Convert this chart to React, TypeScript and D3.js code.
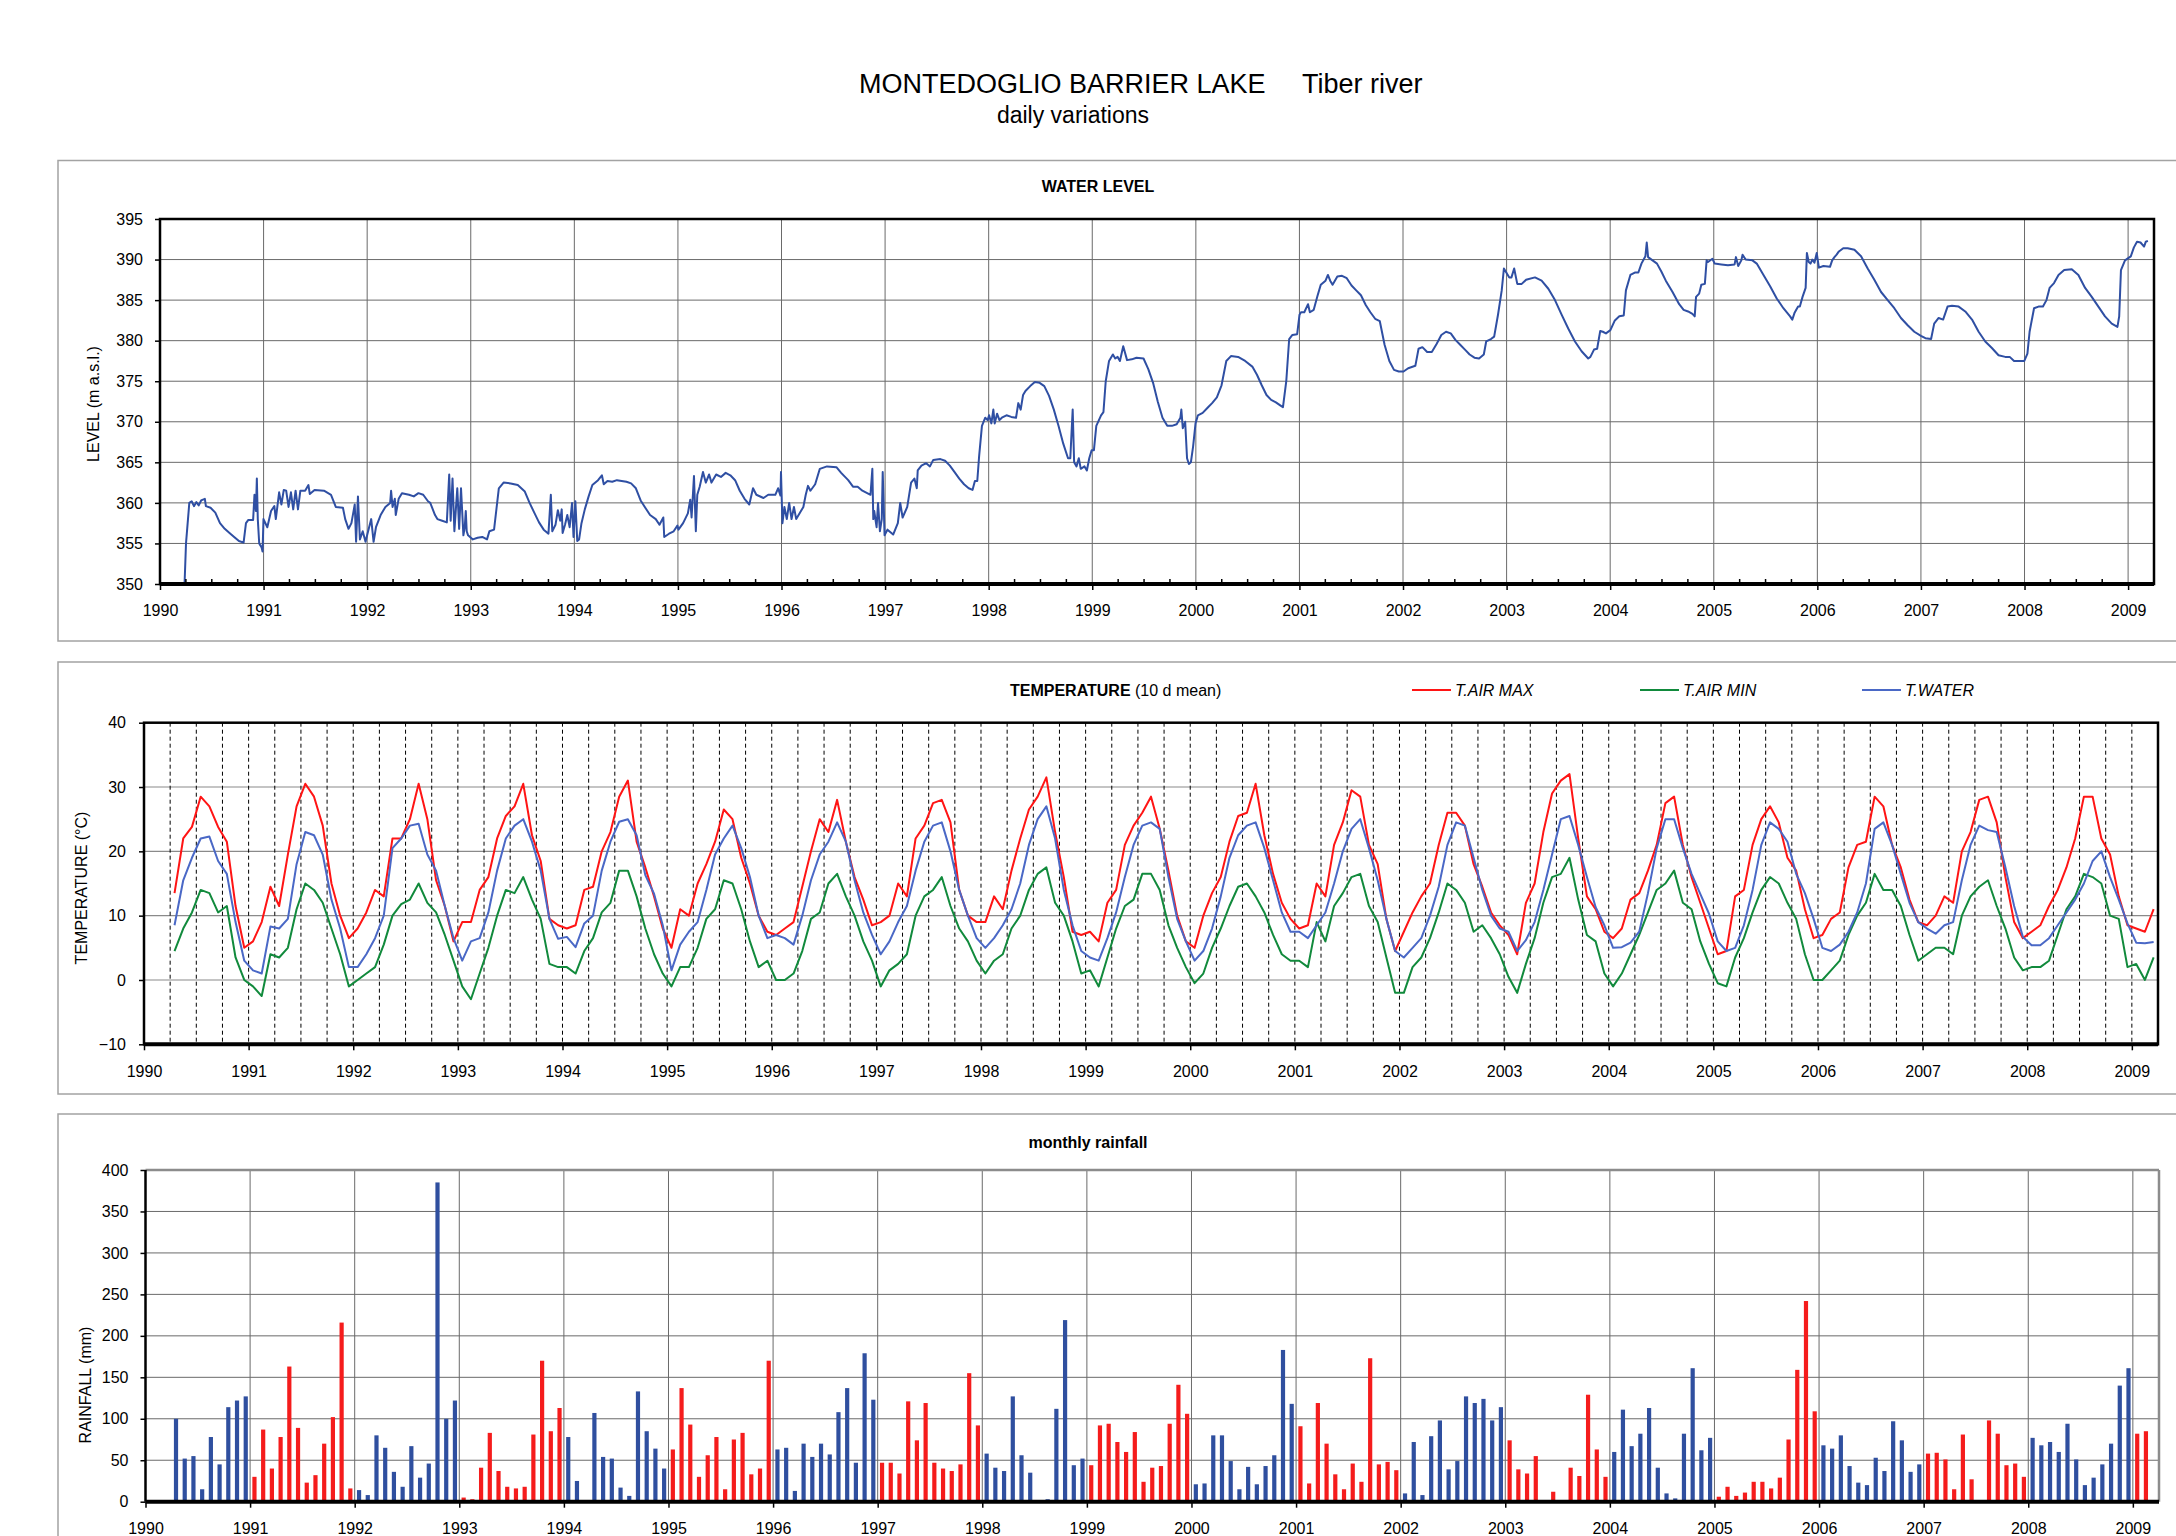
import React, { useRef, useEffect } from "react";
import * as d3 from "d3";

const WIDTH = 2176;
const HEIGHT = 1536;
const FONT = "'Liberation Sans', Arial, Helvetica, sans-serif";

const years = d3.range(1990, 2010);

// lake level, [decimal year, m a.s.l.]
const waterLevel: [number, number][] = [
  [1990.237,350],[1990.251,355],[1990.283,360],[1990.306,360.2],[1990.328,359.6],[1990.351,360.1],[1990.374,359.7],[1990.397,360.3],[1990.433,360.5],[1990.443,359.6],[1990.488,359.4],[1990.534,358.8],[1990.579,357.5],[1990.625,356.8],[1990.671,356.3],[1990.716,355.8],[1990.762,355.3],[1990.807,355.1],[1990.83,357.5],[1990.853,357.9],[1990.899,357.9],[1990.912,361],[1990.926,359],[1990.935,363],[1990.944,358],[1990.958,355],[1990.981,354.5],[1990.99,354],[1990.999,358],
  [1991.036,357],[1991.072,359],[1991.104,359.6],[1991.118,358],[1991.15,361.3],[1991.172,359.8],[1991.195,361.6],[1991.218,361.5],[1991.241,359.5],[1991.264,361.3],[1991.286,359.2],[1991.309,361.5],[1991.332,359.2],[1991.355,361.5],[1991.401,361.5],[1991.433,362.2],[1991.446,361.1],[1991.492,361.6],[1991.583,361.5],[1991.651,361],[1991.697,359.5],[1991.766,359.4],[1991.788,358],[1991.82,356.8],[1991.848,357.5],[1991.88,359.8],[1991.893,355.2],[1991.911,360.8],[1991.93,355.5],[1991.957,356.5],[1991.984,355.2],
  [1992.003,356.2],[1992.039,358],[1992.062,355.2],[1992.085,357],[1992.13,358.5],[1992.176,359.5],[1992.222,360],[1992.231,361.5],[1992.245,359.5],[1992.267,360.5],[1992.276,358.5],[1992.304,360.5],[1992.336,361.2],[1992.404,361],[1992.45,360.8],[1992.495,361.2],[1992.541,361],[1992.587,360.2],[1992.609,360],[1992.655,358.5],[1992.678,358],[1992.724,357.8],[1992.769,357.6],[1992.792,363.5],[1992.806,357.8],[1992.824,363],[1992.842,356.5],[1992.87,361.8],[1992.888,356.8],[1992.906,361.8],[1992.929,356],[1992.942,357],[1992.952,359],[1992.961,356.5],[1992.974,356],
  [1993.02,355.5],[1993.066,355.7],[1993.111,355.8],[1993.157,355.5],[1993.18,356.5],[1993.225,356.7],[1993.271,361.8],[1993.317,362.5],[1993.385,362.4],[1993.454,362.2],[1993.522,361.4],[1993.568,360],[1993.613,358.8],[1993.659,357.6],[1993.704,356.7],[1993.75,356.2],[1993.773,361],[1993.787,356.5],[1993.818,357.3],[1993.841,359.1],[1993.864,357.8],[1993.878,359.2],[1993.887,356.3],[1993.91,357.3],[1993.932,358.5],[1993.955,357],[1993.978,360],[1993.992,355.8],
  [1994.01,360.2],[1994.028,355.3],[1994.046,355.5],[1994.069,357.5],[1994.101,359.2],[1994.138,360.8],[1994.174,362.2],[1994.229,362.8],[1994.266,363.4],[1994.284,362.3],[1994.32,362.7],[1994.366,362.6],[1994.411,362.8],[1994.503,362.6],[1994.548,362.4],[1994.594,361.8],[1994.64,360.3],[1994.685,359.4],[1994.731,358.5],[1994.786,358],[1994.822,357.3],[1994.859,358.2],[1994.868,355.8],[1994.914,356.2],[1994.959,356.5],[1994.995,357.2],
  [1995.005,356.7],[1995.05,357.5],[1995.096,358.7],[1995.119,360.4],[1995.132,358.2],[1995.155,363.3],[1995.173,356.5],[1995.187,361],[1995.21,362],[1995.242,363.8],[1995.269,362.5],[1995.301,363.5],[1995.324,362.5],[1995.369,363.5],[1995.415,363.2],[1995.461,363.7],[1995.506,363.4],[1995.552,362.8],[1995.597,361.5],[1995.643,360.5],[1995.689,359.8],[1995.725,361.8],[1995.757,361],[1995.826,360.6],[1995.872,361],[1995.94,361],[1995.967,361.8],[1995.99,360.9],[1995.995,363.8],
  [1996.009,357.5],[1996.028,359.5],[1996.051,358],[1996.074,360],[1996.097,358],[1996.12,359.5],[1996.142,358],[1996.165,358.5],[1996.211,359.5],[1996.234,361],[1996.256,362.1],[1996.279,361.5],[1996.325,362.3],[1996.37,364.2],[1996.439,364.5],[1996.53,364.4],[1996.576,363.7],[1996.644,362.8],[1996.69,362],[1996.735,362],[1996.781,361.5],[1996.827,361.2],[1996.859,361],[1996.877,364.2],[1996.886,358],[1996.895,359],[1996.918,357],[1996.932,360],[1996.95,356.5],[1996.968,358],[1996.977,363.8],[1996.995,356],
  [1997.023,356.7],[1997.078,356.1],[1997.123,357.5],[1997.146,360],[1997.169,358.2],[1997.214,359.5],[1997.251,362.5],[1997.283,363],[1997.306,361.8],[1997.315,364],[1997.351,364.6],[1997.397,364.9],[1997.433,364.5],[1997.465,365.3],[1997.534,365.4],[1997.579,365.2],[1997.625,364.6],[1997.671,363.8],[1997.716,363],[1997.762,362.3],[1997.807,361.8],[1997.844,361.6],[1997.867,362.7],[1997.89,362.7],[1997.908,365.8],[1997.935,369.5],[1997.967,370.5],[1997.99,370.2],
  [1998.004,370.8],[1998.026,369.8],[1998.045,371.5],[1998.058,369.8],[1998.081,371],[1998.104,370.2],[1998.127,370.5],[1998.172,370.8],[1998.218,370.6],[1998.264,370.5],[1998.286,372.3],[1998.309,371.5],[1998.332,373.3],[1998.355,373.8],[1998.401,374.4],[1998.446,374.9],[1998.492,374.8],[1998.537,374.4],[1998.583,373.2],[1998.629,371.5],[1998.674,369.5],[1998.72,367.3],[1998.766,365.5],[1998.788,365.5],[1998.811,371.5],[1998.825,365],[1998.848,364.5],[1998.87,365.5],[1998.889,364.2],[1998.925,364.5],[1998.948,364],[1998.971,365.5],[1998.994,366.5],
  [1999.016,366.5],[1999.039,369.5],[1999.085,370.8],[1999.108,371.2],[1999.13,375],[1999.162,377.5],[1999.199,378.3],[1999.222,377.8],[1999.245,378],[1999.267,377.5],[1999.299,379.3],[1999.336,377.6],[1999.381,377.7],[1999.427,377.9],[1999.495,377.8],[1999.541,376.5],[1999.587,374.8],[1999.632,372.5],[1999.678,370.5],[1999.724,369.5],[1999.769,369.5],[1999.815,369.7],[1999.851,370.5],[1999.86,371.5],[1999.874,369.2],[1999.897,370],[1999.915,365.5],[1999.933,364.8],[1999.952,365],[1999.974,367],[1999.997,369.8],
  [2000.02,370.8],[2000.066,371.1],[2000.111,371.7],[2000.157,372.3],[2000.203,373],[2000.248,374.5],[2000.294,377.5],[2000.339,378.1],[2000.408,378],[2000.476,377.5],[2000.545,376.8],[2000.59,375.8],[2000.636,374.5],[2000.682,373.3],[2000.727,372.7],[2000.773,372.4],[2000.818,372],[2000.841,371.8],[2000.873,375],[2000.901,380.2],[2000.932,380.7],[2000.978,380.8],
  [2001.001,383.2],[2001.015,383.5],[2001.047,383.5],[2001.083,384.5],[2001.101,383.5],[2001.138,383.8],[2001.174,385.5],[2001.206,386.9],[2001.252,387.4],[2001.275,388.1],[2001.297,387.4],[2001.32,386.9],[2001.366,387.9],[2001.411,388],[2001.457,387.7],[2001.503,386.8],[2001.548,386.2],[2001.594,385.6],[2001.64,384.4],[2001.685,383.5],[2001.731,382.7],[2001.776,382.4],[2001.822,379.5],[2001.868,377.5],[2001.913,376.4],[2001.959,376.2],
  [2002.005,376.2],[2002.05,376.6],[2002.119,376.9],[2002.15,379],[2002.187,379.2],[2002.233,378.6],[2002.278,378.6],[2002.324,379.6],[2002.37,380.7],[2002.415,381.1],[2002.461,380.9],[2002.506,380.1],[2002.552,379.5],[2002.598,378.9],[2002.643,378.3],[2002.689,377.9],[2002.734,377.8],[2002.78,378.3],[2002.803,379.9],[2002.849,380.2],[2002.88,380.5],[2002.917,383.2],[2002.953,386.2],[2002.974,388.9],
  [2003.026,387.8],[2003.047,387.8],[2003.073,388.9],[2003.103,387],[2003.146,387],[2003.188,387.5],[2003.274,387.8],[2003.338,387.4],[2003.403,386.4],[2003.467,385],[2003.531,383.2],[2003.595,381.5],[2003.66,379.9],[2003.724,378.7],[2003.788,377.8],[2003.809,378],[2003.844,378.9],[2003.874,379],[2003.904,381.2],[2003.929,381.1],[2003.959,380.9],
  [2004.002,381.3],[2004.045,382.5],[2004.088,383],[2004.131,383.1],[2004.152,386.2],[2004.195,388.1],[2004.238,388.4],[2004.272,388.4],[2004.302,389.5],[2004.323,390],[2004.34,390.4],[2004.353,392.1],[2004.366,390.3],[2004.409,389.9],[2004.452,389.5],[2004.495,388.5],[2004.537,387.4],[2004.602,386],[2004.666,384.5],[2004.709,383.8],[2004.752,383.6],[2004.794,383.3],[2004.816,383],[2004.829,385.4],[2004.859,385.8],[2004.88,386.9],[2004.914,387],[2004.931,389.9],[2004.944,389.7],[2004.987,390.1],
  [2005.009,389.5],[2005.073,389.4],[2005.137,389.3],[2005.201,389.4],[2005.214,390.3],[2005.236,389.2],[2005.266,389.9],[2005.278,390.6],[2005.308,390],[2005.373,389.9],[2005.415,389.5],[2005.48,388.1],[2005.544,386.7],[2005.608,385.2],[2005.672,384],[2005.737,383],[2005.758,382.6],[2005.779,383.4],[2005.814,384.2],[2005.831,384.2],[2005.857,385.4],[2005.887,386.5],[2005.899,390.8],[2005.917,389.7],[2005.934,389.5],[2005.951,390],[2005.972,389.6],[2005.994,390.8],
  [2006.015,389],[2006.058,389.2],[2006.122,389.1],[2006.143,389.9],[2006.165,390.3],[2006.186,390.6],[2006.208,391],[2006.25,391.4],[2006.293,391.4],[2006.358,391.2],[2006.422,390.4],[2006.486,388.9],[2006.55,387.5],[2006.615,386],[2006.679,385],[2006.743,384],[2006.807,382.8],[2006.872,381.9],[2006.936,381.1],
  [2007,380.6],[2007.043,380.3],[2007.098,380.2],[2007.128,382.1],[2007.171,382.8],[2007.214,382.6],[2007.257,384.2],[2007.3,384.3],[2007.364,384.2],[2007.428,383.6],[2007.493,382.6],[2007.557,381.1],[2007.621,379.9],[2007.685,379.1],[2007.749,378.2],[2007.814,378],[2007.857,378],[2007.899,377.5],[2007.942,377.5],[2007.998,377.5],
  [2008.028,378.4],[2008.049,381.1],[2008.092,384],[2008.135,384.2],[2008.178,384.2],[2008.212,385],[2008.242,386.5],[2008.285,387.1],[2008.328,388.1],[2008.383,388.7],[2008.456,388.8],[2008.52,388.1],[2008.585,386.5],[2008.649,385.4],[2008.713,384.2],[2008.777,383],[2008.842,382.1],[2008.897,381.7],[2008.914,383],[2008.931,388.7],[2008.97,389.9],
  [2009.026,390.4],[2009.056,391.5],[2009.086,392.2],[2009.12,392.1],[2009.154,391.6],[2009.171,392.2],[2009.191,392.3],
];

// temperatures (°C), one value per month from Apr 1990 to Mar 2009
const tempStart = 1990 + 3 / 12;
const tAirMax = [
  13.5, 22, 23.8, 28.5, 27, 23.8, 21.5, 11.5, 5,
  6, 9, 14.5, 11.5, 19.5, 27, 30.5, 28.5, 24, 15, 10, 6.5,
  8, 10.5, 14, 13, 22, 22, 25, 30.5, 25, 15.5, 11.5, 6,
  9, 9, 14, 16, 22, 25.5, 27, 30.5, 22.5, 18.5, 9.5, 8.5,
  8, 8.5, 14, 14.5, 20, 23, 28.5, 31, 21.5, 17.5, 13, 8,
  5, 11, 10, 15, 18, 21.5, 26.5, 25, 19, 15, 10, 7.5,
  7, 8, 9, 14.5, 20, 25, 23, 28, 21.5, 16, 12.5, 8.5,
  9, 10, 15, 13, 22, 24, 27.5, 28, 24.5, 14, 10, 9,
  9, 13, 11, 17, 22, 26.5, 28.5, 31.5, 23, 16, 7.5, 7,
  7.5, 6, 12, 14, 21, 24, 26, 28.5, 23.5, 17, 10, 6,
  5, 10, 13.5, 16, 21.5, 25.5, 26, 30.5, 22.5, 16.5, 12, 9.5,
  8, 8.5, 15, 13, 21, 24.5, 29.5, 28.5, 21, 18, 9.5, 4.5,
  7.5, 10.5, 13, 15, 21, 26, 26, 24, 18, 14.5, 10.5, 8.5,
  7, 4, 12, 15, 23, 29, 31, 32, 22, 13, 11, 7.5,
  6.5, 8, 12.5, 13.5, 17, 21, 27.5, 28.5, 21, 16, 12, 8,
  4, 4.5, 13, 14, 21, 25, 27, 24.5, 19, 17, 11, 6.5,
  7, 9.5, 10.5, 17.5, 21, 21.5, 28.5, 27, 21, 17.5, 12.5, 9,
  8.5, 10, 13, 12, 20, 23, 28, 28.5, 24.5, 16, 9, 6.5,
  7.5, 8.5, 11.5, 14, 17.5, 22, 28.5, 28.5, 22, 19.5, 13, 8.5,
  8, 7.5, 11,
];
const tAirMin = [
  4.5, 8, 10.5, 14, 13.5, 10.5, 11.5, 3.5, 0,
  -1, -2.5, 4, 3.5, 5, 11, 15, 14, 12, 8, 4, -1,
  0, 1, 2, 5.5, 10, 11.8, 12.5, 15, 12, 10.5, 7, 3,
  -1, -3, 1, 5, 10, 14, 13.5, 16, 12.5, 9.5, 2.5, 2,
  2, 1, 4.5, 6.5, 10.5, 12, 17, 17, 13, 8, 4, 1,
  -1, 2, 2, 5, 9.5, 11, 15.5, 15, 11, 6, 2, 3,
  0, 0, 1, 4.5, 9.5, 10.5, 15, 16.5, 13, 10, 6, 3,
  -1, 1.5, 2.5, 4, 10, 13, 14, 16, 11.5, 8, 6, 3,
  1, 3, 4, 8, 10, 14, 16.5, 17.5, 12, 10, 6, 1,
  1.5, -1, 3.5, 8, 11.5, 12.5, 16.5, 16.5, 14, 8.5, 5, 2,
  -0.5, 1, 5, 8, 11.5, 14.5, 15, 13, 10.5, 7, 4, 3,
  3, 2, 9, 6, 11.5, 13.5, 16, 16.5, 11.5, 9, 3.5, -2,
  -2, 2, 3.5, 6.5, 10.5, 15, 14, 12, 7.5, 8.5, 6.5, 4,
  0.5, -2, 2.5, 6.5, 12, 16, 16.5, 19, 12.5, 7, 6, 1,
  -1, 1, 4, 7, 10.5, 14, 15, 17, 12, 11, 6, 2.5,
  -0.5, -1, 3.5, 6.5, 10.5, 14, 16, 15, 12, 9.5, 4, 0,
  0, 1.5, 3, 7, 10, 12, 16.5, 14, 14, 11.5, 7, 3,
  4, 5, 5, 4, 10, 13, 14.5, 15.5, 11.5, 8, 3.5, 1.5,
  2, 2, 3, 7, 11, 13, 16.5, 16, 15, 10, 9.5, 2,
  2.5, 0, 3.5,
];
const tWater = [
  8.5, 15.5, 19, 22, 22.3, 18.5, 16.5, 9, 3,
  1.5, 1, 8.3, 8, 9.5, 18, 23, 22.5, 19.5, 12.5, 8, 2,
  2, 4, 6.5, 10, 20.5, 22, 24, 24.3, 19.5, 17, 11.5, 6.5,
  3, 6, 6.5, 10.5, 17, 22, 24, 25, 21.5, 17, 9.5, 6.4,
  6.7, 5.1, 8.8, 10, 17, 21.5, 24.6, 25, 22.5, 16.3, 13.4, 8.5,
  1.5, 5.5, 7.5, 9, 14, 19.5, 22, 24, 20.5, 16, 10, 6.5,
  7, 6.5, 5.5, 10, 15.5, 19.5, 21.5, 24.5, 21.5, 15.5, 10.5, 7,
  4, 6, 9, 11.5, 17, 21.5, 24, 24.5, 20, 14, 10, 6.5,
  5, 6.5, 8.5, 11, 15, 21, 25, 27, 22, 14, 8.5, 4.5,
  3.5, 3, 6.5, 10.5, 16, 21, 24, 24.5, 23.5, 16, 9.5, 6,
  3, 4.5, 8, 13, 19, 22.5, 24, 24.5, 20.5, 15.5, 10.5, 7.5,
  7.5, 6.5, 8.5, 10.5, 15, 20, 23.5, 25, 20.5, 15.5, 9.5, 4.5,
  3.5, 5, 6.5, 10, 14.5, 21, 24.5, 24, 19, 14, 10, 8,
  7.5, 4.5, 6.2, 9, 14, 19.5, 25, 25.5, 21, 16, 11.3, 8.5,
  5, 5.1, 5.8, 7.5, 13.5, 20.5, 25, 25, 20.5, 16.5, 13.4, 10.3,
  6, 4.5, 5, 8.5, 14, 21, 24.5, 23.5, 21.5, 16.5, 13.5, 9.5,
  5, 4.5, 5.5, 7.5, 10.5, 15, 23.5, 24.5, 21, 16.5, 12, 9,
  8, 7.2, 8.5, 9, 15.5, 21, 24, 23.3, 23, 17.5, 11.5, 6.7,
  5.4, 5.4, 6.5, 8.5, 10.5, 12.5, 15, 18.5, 20, 16, 12.5, 8.8,
  5.8, 5.7, 5.9,
];

// monthly rainfall (mm), Apr 1990 to Feb 2009
const rainStart = 1990 + 3 / 12;
const rainfall = [
  100, 52, 55, 15, 78, 45, 114, 122, 127,
  30, 87, 40, 78, 163, 89, 23, 32, 70, 102, 216, 16,
  14, 8, 80, 65, 36, 18, 67, 29, 46, 385, 100, 122,
  5, 3, 41, 83, 37, 18, 16, 18, 81, 170, 85, 113,
  78, 25, 0, 107, 54, 52, 17, 7, 133, 85, 64, 40,
  63, 137, 93, 30, 56, 78, 15, 75, 83, 33, 40, 170,
  63, 65, 13, 70, 54, 70, 57, 108, 137, 47, 179, 123,
  47, 47, 34, 121, 74, 119, 47, 40, 37, 45, 155, 92,
  58, 41, 37, 127, 56, 35, 2, 3, 112, 219, 44, 52,
  44, 92, 94, 72, 60, 84, 24, 41, 43, 94, 141, 106,
  21, 22, 80, 80, 49, 15, 42, 21, 43, 56, 183, 118,
  91, 22, 119, 70, 33, 15, 46, 24, 173, 45, 48, 38,
  10, 72, 8, 79, 98, 39, 49, 127, 119, 124, 98, 114,
  74, 39, 34, 55, 0, 12, 0, 41, 31, 129, 63, 30,
  60, 111, 67, 82, 113, 41, 10, 4, 82, 161, 62, 77,
  6, 18, 7, 11, 24, 24, 16, 29, 75, 159, 242, 109,
  68, 64, 80, 43, 23, 20, 53, 37, 97, 74, 36, 45,
  58, 59, 51, 15, 81, 27, 0, 98, 82, 44, 46, 30,
  77, 68, 72, 60, 94, 51, 20, 29, 45, 70, 140, 161,
  82, 85,
];

const tempSeries = [
  { name: "T.AIR MAX", values: tAirMax, color: "#ff1414" },
  { name: "T.AIR MIN", values: tAirMin, color: "#118a3c" },
  { name: "T.WATER", values: tWater, color: "#4a68c6" },
];

const RAIN_EVEN = "#2f4f9f";
const RAIN_ODD = "#f51c1c";

const App = () => {
  const svgRef = useRef<SVGSVGElement>(null);

  useEffect(() => {
    document.body.style.margin = "0";
    const svg = d3.select(svgRef.current);
    svg.selectAll("*").remove();

    svg.append("rect").attr("width", WIDTH).attr("height", HEIGHT).attr("fill", "#fff");

    const styleAxis = (g) => {
      g.attr("font-family", FONT).attr("font-size", 16);
      g.select(".domain").remove();
      g.selectAll(".tick line").attr("stroke", "#000").attr("stroke-width", 1.5);
      g.selectAll(".tick text").attr("fill", "#000");
    };

    // header
    svg.append("text").attr("x", 859).attr("y", 93).attr("font-size", 27).text("MONTEDOGLIO BARRIER LAKE");
    svg.append("text").attr("x", 1302).attr("y", 93).attr("font-size", 27).text("Tiber river");
    svg.append("text").attr("x", 1073).attr("y", 123).attr("font-size", 23)
      .attr("text-anchor", "middle").text("daily variations");

    // panel frames
    [[160.5, 641], [662, 1094], [1114, 1600]].forEach(([top, bottom]) =>
      svg.append("rect").attr("x", 58).attr("y", top).attr("width", 2200).attr("height", bottom - top)
        .attr("fill", "none").attr("stroke", "#a3a3a3").attr("stroke-width", 1.5)
    );

    // ---------- water level ----------
    const x1 = d3.scaleLinear().domain([1990, 2009.25]).range([160, 2154]);
    const y1 = d3.scaleLinear().domain([350, 395]).range([584, 219]);
    const g1 = svg.append("g");

    g1.append("g").selectAll("line").data(years.slice(1)).join("line")
      .attr("x1", (d) => x1(d)).attr("x2", (d) => x1(d))
      .attr("y1", y1(395)).attr("y2", y1(350))
      .attr("stroke", "#6a6a6a").attr("stroke-width", 1);
    g1.append("g").selectAll("line").data(d3.range(355, 395, 5)).join("line")
      .attr("x1", x1(1990)).attr("x2", x1(2009.25))
      .attr("y1", (d) => y1(d)).attr("y2", (d) => y1(d))
      .attr("stroke", "#6a6a6a").attr("stroke-width", 1);

    g1.append("path").datum(waterLevel)
      .attr("fill", "none").attr("stroke", "#2f4fa3").attr("stroke-width", 2)
      .attr("stroke-linejoin", "round")
      .attr("d", d3.line().x((d) => x1(d[0])).y((d) => y1(d[1])));

    g1.append("rect").attr("x", x1(1990)).attr("y", y1(395))
      .attr("width", x1(2009.25) - x1(1990)).attr("height", y1(350) - y1(395))
      .attr("fill", "none").attr("stroke", "#000").attr("stroke-width", 2.5);
    g1.append("line").attr("x1", x1(1990)).attr("x2", x1(2009.25))
      .attr("y1", y1(350)).attr("y2", y1(350)).attr("stroke", "#000").attr("stroke-width", 4);

    g1.append("g").selectAll("line")
      .data(d3.range(1, 77).filter((i) => i % 4 !== 0).map((i) => 1990 + i / 4)).join("line")
      .attr("x1", (d) => x1(d)).attr("x2", (d) => x1(d))
      .attr("y1", y1(350)).attr("y2", y1(350) - 5)
      .attr("stroke", "#000").attr("stroke-width", 1.5);

    g1.append("g").attr("transform", `translate(${x1(1990)},0)`)
      .call(d3.axisLeft(y1).tickValues(d3.range(350, 396, 5)).tickSize(5).tickPadding(12).tickSizeOuter(0))
      .call(styleAxis);
    g1.append("g").attr("transform", `translate(0,${y1(350)})`)
      .call(d3.axisBottom(x1).tickValues(years).tickFormat(d3.format("d")).tickSize(6).tickPadding(15))
      .call(styleAxis);

    g1.append("text").attr("x", 1098).attr("y", 192).attr("text-anchor", "middle")
      .attr("font-size", 16).attr("font-weight", "bold").text("WATER LEVEL");
    g1.append("text").attr("transform", "translate(99,404) rotate(-90)").attr("text-anchor", "middle")
      .attr("font-size", 16).text("LEVEL  (m a.s.l.)");

    // ---------- temperature ----------
    const x2 = d3.scaleLinear().domain([1990, 2009.25]).range([144, 2158]);
    const y2 = d3.scaleLinear().domain([-10, 40]).range([1044.3, 722.7]);
    const g2 = svg.append("g");

    g2.append("g").selectAll("line").data([0, 10, 20, 30]).join("line")
      .attr("x1", x2(1990)).attr("x2", x2(2009.25))
      .attr("y1", (d) => y2(d)).attr("y2", (d) => y2(d))
      .attr("stroke", "#8a8a8a").attr("stroke-width", 1.2);
    g2.append("g").selectAll("line").data(d3.range(1, 77).map((i) => 1990 + i / 4)).join("line")
      .attr("x1", (d) => x2(d)).attr("x2", (d) => x2(d))
      .attr("y1", y2(40)).attr("y2", y2(-10))
      .attr("stroke", "#000").attr("stroke-width", 1).attr("stroke-dasharray", "4,3");

    const tLine = d3.line<number>()
      .x((d, i) => x2(tempStart + (i + 0.5) / 12))
      .y((d) => y2(d));
    tempSeries.forEach((s) =>
      g2.append("path").datum(s.values)
        .attr("fill", "none").attr("stroke", s.color).attr("stroke-width", 2)
        .attr("stroke-linejoin", "round").attr("d", tLine)
    );

    g2.append("rect").attr("x", x2(1990)).attr("y", y2(40))
      .attr("width", x2(2009.25) - x2(1990)).attr("height", y2(-10) - y2(40))
      .attr("fill", "none").attr("stroke", "#000").attr("stroke-width", 2.5);
    g2.append("line").attr("x1", x2(1990)).attr("x2", x2(2009.25))
      .attr("y1", y2(-10)).attr("y2", y2(-10)).attr("stroke", "#000").attr("stroke-width", 4);

    g2.append("g").attr("transform", `translate(${x2(1990)},0)`)
      .call(d3.axisLeft(y2).tickValues(d3.range(-10, 41, 10)).tickSize(5).tickPadding(13).tickSizeOuter(0))
      .call(styleAxis);
    g2.append("g").attr("transform", `translate(0,${y2(-10)})`)
      .call(d3.axisBottom(x2).tickValues(years).tickFormat(d3.format("d")).tickSize(6).tickPadding(15))
      .call(styleAxis);

    const title2 = g2.append("text").attr("x", 1010).attr("y", 696).attr("font-size", 16);
    title2.append("tspan").attr("font-weight", "bold").text("TEMPERATURE");
    title2.append("tspan").text(" (10 d mean)");

    const legendX = [1412, 1640, 1862];
    tempSeries.forEach((s, i) => {
      g2.append("line").attr("x1", legendX[i]).attr("x2", legendX[i] + 39)
        .attr("y1", 690).attr("y2", 690).attr("stroke", s.color).attr("stroke-width", 2);
      g2.append("text").attr("x", legendX[i] + 43).attr("y", 696)
        .attr("font-size", 16).attr("font-style", "italic").text(s.name);
    });

    g2.append("text").attr("transform", "translate(87,888) rotate(-90)").attr("text-anchor", "middle")
      .attr("font-size", 16).text("TEMPERATURE  (°C)");

    // ---------- rainfall ----------
    const x3 = d3.scaleLinear().domain([1990, 2009.25]).range([145.5, 2159]);
    const y3 = d3.scaleLinear().domain([0, 400]).range([1501.7, 1170]);
    const g3 = svg.append("g");

    g3.append("g").selectAll("line").data(years.slice(1)).join("line")
      .attr("x1", (d) => x3(d)).attr("x2", (d) => x3(d))
      .attr("y1", y3(400)).attr("y2", y3(0))
      .attr("stroke", "#6a6a6a").attr("stroke-width", 1);
    g3.append("g").selectAll("line").data(d3.range(50, 400, 50)).join("line")
      .attr("x1", x3(1990)).attr("x2", x3(2009.25))
      .attr("y1", (d) => y3(d)).attr("y2", (d) => y3(d))
      .attr("stroke", "#6a6a6a").attr("stroke-width", 1);

    const rainData = rainfall.map((v, i) => ({ t: rainStart + (i + 0.5) / 12, v }));
    g3.append("g").selectAll("rect").data(rainData).join("rect")
      .attr("x", (d) => x3(d.t) - 2.1).attr("width", 4.2)
      .attr("y", (d) => y3(d.v)).attr("height", (d) => y3(0) - y3(d.v))
      .attr("fill", (d) => (Math.floor(d.t) % 2 === 0 ? RAIN_EVEN : RAIN_ODD));

    g3.append("line").attr("x1", x3(1990)).attr("x2", x3(2009.25))
      .attr("y1", y3(400)).attr("y2", y3(400)).attr("stroke", "#8c8c8c").attr("stroke-width", 2.5);
    g3.append("line").attr("x1", x3(2009.25)).attr("x2", x3(2009.25))
      .attr("y1", y3(400)).attr("y2", y3(0)).attr("stroke", "#8c8c8c").attr("stroke-width", 2.5);
    g3.append("line").attr("x1", x3(1990)).attr("x2", x3(1990))
      .attr("y1", y3(400)).attr("y2", y3(0)).attr("stroke", "#000").attr("stroke-width", 2.5);
    g3.append("line").attr("x1", x3(1990)).attr("x2", x3(2009.25))
      .attr("y1", y3(0)).attr("y2", y3(0)).attr("stroke", "#000").attr("stroke-width", 4);

    g3.append("g").attr("transform", `translate(${x3(1990)},0)`)
      .call(d3.axisLeft(y3).tickValues(d3.range(0, 401, 50)).tickSize(5).tickPadding(12).tickSizeOuter(0))
      .call(styleAxis);
    g3.append("g").attr("transform", `translate(0,${y3(0)})`)
      .call(d3.axisBottom(x3).tickValues(years).tickFormat(d3.format("d")).tickSize(6).tickPadding(15))
      .call(styleAxis);

    g3.append("text").attr("x", 1088).attr("y", 1148).attr("text-anchor", "middle")
      .attr("font-size", 16).attr("font-weight", "bold").text("monthly rainfall");
    g3.append("text").attr("transform", "translate(91,1385) rotate(-90)").attr("text-anchor", "middle")
      .attr("font-size", 16).text("RAINFALL  (mm)");
  }, []);

  return (
    <svg
      ref={svgRef}
      width={WIDTH}
      height={HEIGHT}
      fontFamily={FONT}
      style={{ position: "absolute", left: 0, top: 0, display: "block" }}
    />
  );
};

export default App;
